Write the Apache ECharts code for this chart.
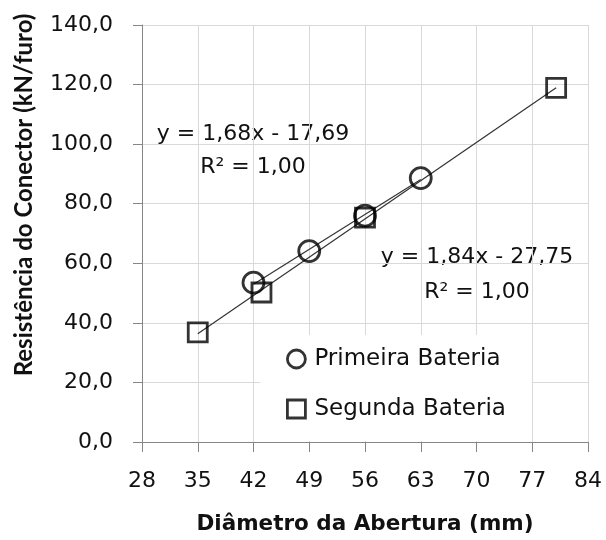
<!DOCTYPE html>
<html>
<head>
<meta charset="utf-8">
<script src="https://cdn.jsdelivr.net/npm/echarts@6/dist/echarts.min.js"></script>
<style>html,body{margin:0;padding:0;background:#fff;}#c{width:606px;height:540px;}</style>
</head>
<body>
<div id="c"></div>
<script>
// ---- data ----
const primeiraX = [42, 49, 56, 63];
const primeiraY = [53.5, 64.1, 76.0, 88.6];
const segundaX = [35, 43, 56, 80];
const segundaY = [36.8, 50.2, 75.3, 118.9];
const xTicks = [28, 35, 42, 49, 56, 63, 70, 77, 84];
const yTicks = [0, 20, 40, 60, 80, 100, 120, 140];
const eqPrimeira = ['y = 1,68x - 17,69', 'R² = 1,00'];
const eqSegunda = ['y = 1,84x - 27,75', 'R² = 1,00'];
const seriesNames = ['Primeira Bateria', 'Segunda Bateria'];

// ---- helpers ----
function pairs(xs, ys) { return xs.map((x, i) => [x, ys[i]]); }
function fitLine(xs, ys) {
  const n = xs.length;
  const mx = xs.reduce((a, b) => a + b, 0) / n;
  const my = ys.reduce((a, b) => a + b, 0) / n;
  let sxy = 0, sxx = 0;
  for (let i = 0; i < n; i++) { sxy += (xs[i] - mx) * (ys[i] - my); sxx += (xs[i] - mx) ** 2; }
  const b = sxy / sxx, a = my - b * mx;
  const x0 = Math.min(...xs), x1 = Math.max(...xs);
  return [[x0, a + b * x0], [x1, a + b * x1]];
}

const FONT = '"DejaVu Sans"';
const TXT = '#111';
const fmt = v => v.toFixed(1).replace('.', ',');

const chart = echarts.init(document.getElementById('c'), null, { renderer: 'canvas' });
const markerStyle = { color: 'rgba(0,0,0,0)', borderColor: '#000', borderWidth: 2.8 };

chart.setOption({
  animation: false,
  backgroundColor: '#fff',
  grid: { left: 142, right: 18, top: 25, bottom: 97, containLabel: false },
  xAxis: {
    type: 'value', min: xTicks[0], max: xTicks[xTicks.length - 1], interval: 7,
    name: 'Diâmetro da Abertura (mm)', nameLocation: 'middle', nameGap: 71,
    nameTextStyle: { fontFamily: 'DejaVu Sans', fontWeight: 'bold', fontSize: 21.5, color: TXT },
    axisLine: { lineStyle: { color: '#868686', width: 1 } },
    axisTick: { show: true, length: 10, lineStyle: { color: '#868686' } },
    axisLabel: { fontFamily: 'DejaVu Sans', fontSize: 22, color: TXT, margin: 28 },
    splitLine: { show: true, lineStyle: { color: '#d9d9d9', width: 1 } }
  },
  yAxis: {
    type: 'value', min: yTicks[0], max: yTicks[yTicks.length - 1], interval: 20,
    axisLine: { show: true, lineStyle: { color: '#868686', width: 1 } },
    axisTick: { show: true, length: 9, lineStyle: { color: '#868686' } },
    axisLabel: { fontFamily: 'DejaVu Sans', fontSize: 22, color: TXT, margin: 29, formatter: fmt },
    splitLine: { show: true, lineStyle: { color: '#d9d9d9', width: 1 } }
  },
  legend: {
    orient: 'vertical', left: 260, top: 335,
    backgroundColor: '#fff',
    padding: [12, 26, 20, 26],
    itemWidth: 18, itemHeight: 18, itemGap: 26,
    textStyle: { fontFamily: 'DejaVu Sans', fontSize: 23, color: TXT, lineHeight: 24, padding: [0, 0, 0, 4] },
    data: [
      { name: seriesNames[0], icon: 'circle', itemStyle: markerStyle },
      { name: seriesNames[1], icon: 'rect', itemStyle: markerStyle }
    ]
  },
  series: [
    {
      type: 'line', data: fitLine(primeiraX, primeiraY), showSymbol: false, symbol: 'none',
      lineStyle: { color: '#333', width: 1.2 }, z: 2, silent: true
    },
    {
      type: 'line', data: fitLine(segundaX, segundaY), showSymbol: false, symbol: 'none',
      lineStyle: { color: '#333', width: 1.2 }, z: 2, silent: true
    },
    {
      name: seriesNames[0], type: 'scatter', symbol: 'circle', symbolSize: 21,
      data: pairs(primeiraX, primeiraY), itemStyle: markerStyle, z: 3
    },
    {
      name: seriesNames[1], type: 'scatter', symbol: 'rect', symbolSize: 19,
      data: pairs(segundaX, segundaY), itemStyle: markerStyle, z: 4
    }
  ],
  graphic: [
    {
      type: 'group', left: 150, top: 98, z: 10,
      children: [
        { type: 'rect', shape: { x: 0, y: 0, width: 212, height: 94 }, style: { fill: '#fff' } },
        { type: 'text', x: 103, y: 36, style: { text: eqPrimeira[0], font: '22px ' + FONT, fill: TXT, align: 'center', verticalAlign: 'middle' } },
        { type: 'text', x: 103, y: 69, style: { text: eqPrimeira[1], font: '22px ' + FONT, fill: TXT, align: 'center', verticalAlign: 'middle' } }
      ]
    },
    {
      type: 'group', left: 373, top: 232, z: 10,
      children: [
        { type: 'rect', shape: { x: 0, y: 0, width: 214, height: 86 }, style: { fill: '#fff' } },
        { type: 'text', x: 104, y: 25, style: { text: eqSegunda[0], font: '22px ' + FONT, fill: TXT, align: 'center', verticalAlign: 'middle' } },
        { type: 'text', x: 104, y: 60, style: { text: eqSegunda[1], font: '22px ' + FONT, fill: TXT, align: 'center', verticalAlign: 'middle' } }
      ]
    },
    {
      type: 'text', x: 24, y: 195, rotation: Math.PI / 2, z: 10,
      style: { text: 'Resistência do Conector (kN/furo)', font: 'bold 24px Lato', fill: TXT, align: 'center', verticalAlign: 'middle' }
    }
  ]
});
</script>
</body>
</html>
